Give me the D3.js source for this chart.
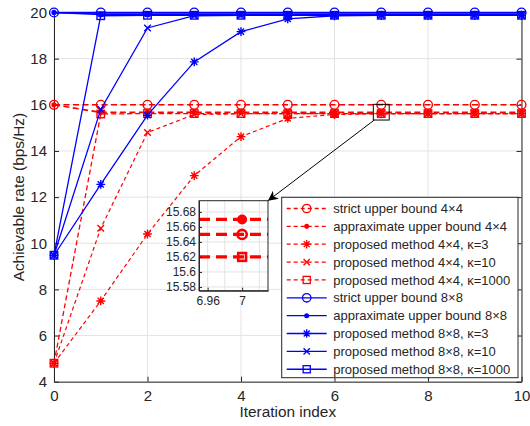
<!DOCTYPE html>
<html><head><meta charset="utf-8">
<script src="https://cdn.jsdelivr.net/npm/d3@7"></script>
<style>body{margin:0;background:#fff}svg{display:block;font-family:"Liberation Sans",Arial,sans-serif}</style>
</head><body><svg id="c" width="530" height="426"></svg>
<script>
// ---- data ----
const iterations = [0,1,2,3,4,5,6,7,8,9,10];
const strict4 = [16,16,16,16,16,16,16,16,16,16,16];
const approx4 = [16,15.67,15.67,15.67,15.67,15.67,15.67,15.67,15.67,15.67,15.67];
const prop4k3 = [4.8,7.5,10.4,12.93,14.62,15.41,15.58,15.61,15.62,15.62,15.62];
const prop4k10 = [4.8,10.65,14.8,15.58,15.61,15.62,15.62,15.62,15.62,15.62,15.62];
const prop4k1000 = [4.8,15.6,15.62,15.62,15.62,15.62,15.62,15.62,15.62,15.62,15.62];
const strict8 = [20,20,20,20,20,20,20,20,20,20,20];
const approx8 = [20,19.92,19.92,19.92,19.92,19.92,19.92,19.92,19.92,19.92,19.92];
const prop8k3 = [9.48,12.55,15.55,17.86,19.17,19.72,19.86,19.88,19.88,19.88,19.88];
const prop8k10 = [9.48,15.8,19.33,19.86,19.88,19.88,19.88,19.88,19.88,19.88,19.88];
const prop8k1000 = [9.48,19.86,19.88,19.88,19.88,19.88,19.88,19.88,19.88,19.88,19.88];
const seriesNames = ["strict upper bound 4\u00d74","appraximate upper bound 4\u00d74","proposed method 4\u00d74, \u03ba=3","proposed method 4\u00d74, \u03ba=10","proposed method 4\u00d74, \u03ba=1000","strict upper bound 8\u00d78","appraximate upper bound 8\u00d78","proposed method 8\u00d78, \u03ba=3","proposed method 8\u00d78, \u03ba=10","proposed method 8\u00d78, \u03ba=1000"];
const xTicks = [0,2,4,6,8,10];
const yTicks = [4,6,8,10,12,14,16,18,20];
// inset (zoom around iteration 7)
const insetX = [6.95,7,7.03];
const insetApprox = [15.67,15.67,15.67];
const insetStrict = [15.65,15.65,15.65];
const insetProp = [15.62,15.62,15.62];
const insetXTicks = [6.96,7];
const insetXGrid = [6.96,6.98,7,7.02];
const insetYTicks = [15.58,15.6,15.62,15.64,15.66,15.68];
const zoomBoxX = [6.83,7.17];
const zoomBoxY = [15.34,16.02];

// ---- styles ----
const RED="#ff0000", BLUE="#0000ff", AX="#262626", GRID="#e3e3e3";
const series = [
 {v:strict4,c:RED,m:"circle",d:"6,3.5",w:1.6},
 {v:approx4,c:RED,m:"dot",d:"6,3.5",w:1.6},
 {v:prop4k3,c:RED,m:"star",d:"4,3",w:1.2},
 {v:prop4k10,c:RED,m:"x",d:"4,3",w:1.2},
 {v:prop4k1000,c:RED,m:"square",d:"5,3",w:1.3},
 {v:strict8,c:BLUE,m:"circle",d:null,w:1.6},
 {v:approx8,c:BLUE,m:"dot",d:null,w:1.6},
 {v:prop8k3,c:BLUE,m:"star",d:null,w:1.3},
 {v:prop8k10,c:BLUE,m:"x",d:null,w:1.3},
 {v:prop8k1000,c:BLUE,m:"square",d:null,w:1.3}
];
series.forEach((s,i)=>s.name=seriesNames[i]);

const svg = d3.select("#c");
const L=54, R=521.5, T=12.5, B=381.7;
const x = d3.scaleLinear().domain([0,10]).range([L,R]);
const y = d3.scaleLinear().domain([4,20]).range([B,T]);

function marker(g,type,cx,cy,color,s,sw){
  s = s||4; sw = sw||1.1;
  if(type==="circle") g.append("circle").attr("cx",cx).attr("cy",cy).attr("r",s).attr("fill","none").attr("stroke",color).attr("stroke-width",sw);
  else if(type==="dot") g.append("circle").attr("cx",cx).attr("cy",cy).attr("r",s*0.6).attr("fill",color);
  else if(type==="square") g.append("rect").attr("x",cx-s*0.85).attr("y",cy-s*0.85).attr("width",s*1.7).attr("height",s*1.7).attr("fill","none").attr("stroke",color).attr("stroke-width",sw);
  else if(type==="x"){ const a=s*0.75; g.append("path").attr("d",`M${cx-a},${cy-a}L${cx+a},${cy+a}M${cx-a},${cy+a}L${cx+a},${cy-a}`).attr("stroke",color).attr("stroke-width",sw);}
  else if(type==="star"){ const a=s, b=s*0.7; g.append("path").attr("d",`M${cx-a},${cy}L${cx+a},${cy}M${cx},${cy-a}L${cx},${cy+a}M${cx-b},${cy-b}L${cx+b},${cy+b}M${cx-b},${cy+b}L${cx+b},${cy-b}`).attr("stroke",color).attr("stroke-width",sw);}
}

// grid
const grid = svg.append("g");
xTicks.forEach(t=>grid.append("line").attr("x1",x(t)).attr("x2",x(t)).attr("y1",T).attr("y2",B).attr("stroke",GRID));
yTicks.forEach(t=>grid.append("line").attr("x1",L).attr("x2",R).attr("y1",y(t)).attr("y2",y(t)).attr("stroke",GRID));

// axes
const xa = svg.append("g").attr("transform",`translate(0,${B})`).call(d3.axisBottom(x).tickValues(xTicks).tickSizeInner(-5).tickSizeOuter(0).tickPadding(9));
const ya = svg.append("g").attr("transform",`translate(${L},0)`).call(d3.axisLeft(y).tickValues(yTicks).tickSizeInner(-5).tickSizeOuter(0).tickPadding(7));
const xt = svg.append("g").attr("transform",`translate(0,${T})`).call(d3.axisTop(x).tickValues(xTicks).tickSizeInner(-5).tickSizeOuter(0).tickFormat(""));
const yr = svg.append("g").attr("transform",`translate(${R},0)`).call(d3.axisRight(y).tickValues(yTicks).tickSizeInner(-5).tickSizeOuter(0).tickFormat(""));
[xa,ya,xt,yr].forEach(a=>{a.selectAll("path,line").attr("stroke",AX); a.selectAll("text").attr("fill",AX).attr("font-size",15).attr("font-family","Liberation Sans, Arial, sans-serif");});

// lines
const line = d3.line().x((d,i)=>x(iterations[i])).y(d=>y(d));
series.forEach(s=>{
  const g = svg.append("g");
  g.append("path").datum(s.v).attr("d",line).attr("fill","none").attr("stroke",s.c).attr("stroke-width",s.w).attr("stroke-dasharray",s.d);
  s.v.forEach((v,i)=>marker(g,s.m,x(iterations[i]),y(v),s.c,4.4,1.4));
});

// axis labels
svg.append("text").attr("x",(L+R)/2).attr("y",417).attr("text-anchor","middle").attr("font-size",15.4).attr("fill",AX).text("Iteration index");
svg.append("text").attr("transform",`translate(24,${(T+B)/2}) rotate(-90)`).attr("text-anchor","middle").attr("font-size",15.4).attr("fill",AX).text("Achievable rate (bps/Hz)");

// zoom box
svg.append("rect").attr("x",x(zoomBoxX[0])).attr("y",y(zoomBoxY[1])).attr("width",x(zoomBoxX[1])-x(zoomBoxX[0])).attr("height",y(zoomBoxY[0])-y(zoomBoxY[1])).attr("fill","none").attr("stroke","#000").attr("stroke-width",1);

// inset
const iL=199, iR=268, iT=200.7, iB=290.7;
const ix = d3.scaleLinear().domain([6.95,7.03]).range([iL,iR]);
const iy = d3.scaleLinear().domain([15.575,15.695]).range([iB,iT]);
const ins = svg.append("g");
ins.append("rect").attr("x",iL).attr("y",iT).attr("width",iR-iL).attr("height",iB-iT).attr("fill","#fff");
insetXGrid.forEach(t=>ins.append("line").attr("x1",ix(t)).attr("x2",ix(t)).attr("y1",iT).attr("y2",iB).attr("stroke",GRID));
insetYTicks.forEach(t=>ins.append("line").attr("x1",iL).attr("x2",iR).attr("y1",iy(t)).attr("y2",iy(t)).attr("stroke",GRID));
svg.append("defs").append("clipPath").attr("id","ic").append("rect").attr("x",iL).attr("y",iT).attr("width",iR-iL).attr("height",iB-iT);
const iline = d3.line().x((d,i)=>ix(insetX[i])).y(d=>iy(d));
const insetSeries=[{v:insetApprox,m:"dot"},{v:insetStrict,m:"circle"},{v:insetProp,m:"square"}];
const ic = ins.append("g").attr("clip-path","url(#ic)");
insetSeries.forEach(s=>{
  ic.append("path").datum(s.v).attr("d",iline).attr("fill","none").attr("stroke",RED).attr("stroke-width",3.2).attr("stroke-dasharray","11,6");
  const g=ic.append("g");
  if(s.m==="dot") g.append("circle").attr("cx",ix(7)).attr("cy",iy(s.v[1])).attr("r",5).attr("fill",RED);
  else marker(g,s.m,ix(7),iy(s.v[1]),RED,4.6,2.6);
});
const iax = ins.append("g").attr("transform",`translate(0,${iB})`).call(d3.axisBottom(ix).tickValues(insetXTicks).tickFormat(d=>d===7?"7":d3.format(".2f")(d)).tickSizeInner(-3).tickSizeOuter(0).tickPadding(6));
const iay = ins.append("g").attr("transform",`translate(${iL},0)`).call(d3.axisLeft(iy).tickValues(insetYTicks).tickFormat(d3.format("~g")).tickSizeInner(-3).tickSizeOuter(0).tickPadding(3));
[iax,iay].forEach(a=>{a.selectAll("path,line").attr("stroke",AX); a.selectAll("text").attr("fill",AX).attr("font-size",12).attr("font-family","Liberation Sans, Arial, sans-serif");});
ins.append("rect").attr("x",iL).attr("y",iT).attr("width",iR-iL).attr("height",iB-iT).attr("fill","none").attr("stroke",AX).attr("stroke-width",1);

// arrow
const defs = svg.select("defs");
defs.append("marker").attr("id","ah").attr("viewBox","0 0 10 10").attr("refX",10).attr("refY",5).attr("markerWidth",13).attr("markerHeight",10).attr("markerUnits","userSpaceOnUse").attr("orient","auto")
  .append("path").attr("d","M0,0L10,5L0,10L3,5Z").attr("fill","#000");
svg.append("line").attr("x1",x(zoomBoxX[0])+1).attr("y1",y(zoomBoxY[0])).attr("x2",iR).attr("y2",iT).attr("stroke","#000").attr("stroke-width",1).attr("marker-end","url(#ah)");

// legend
const lg = svg.append("g");
const lx=281.7, ly=197.3, lw=236.3, lh=180.4, rowH=17.86, row0=208.5;
lg.append("rect").attr("x",lx).attr("y",ly).attr("width",lw).attr("height",lh).attr("fill","#fff").attr("stroke",AX).attr("stroke-width",1);
series.forEach((s,i)=>{
  const cy=row0+i*rowH;
  lg.append("line").attr("x1",lx+5).attr("x2",lx+45).attr("y1",cy).attr("y2",cy).attr("stroke",s.c).attr("stroke-width",1.3).attr("stroke-dasharray",s.c===RED?"4,3":null);
  marker(lg,s.m,lx+25,cy,s.c,4.2,1.3);
  lg.append("text").attr("x",lx+51.5).attr("y",cy+4.6).attr("font-size",13).attr("fill",AX).text(s.name);
});
</script></body></html>
